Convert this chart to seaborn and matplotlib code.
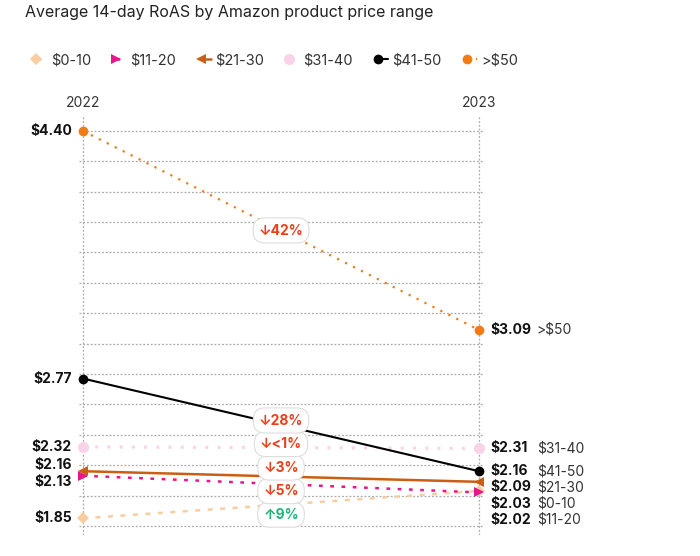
import numpy as np
import pandas as pd
import seaborn as sns
import matplotlib.pyplot as plt
from matplotlib.lines import Line2D
from matplotlib.legend_handler import HandlerLine2D

# ----------------------------
# Data
# ----------------------------
price_ranges = ["$0-10", "$11-20", "$21-30", "$31-40", "$41-50", ">$50"]
years = ["2022", "2023"]
roas_2022 = [1.85, 2.13, 2.16, 2.32, 2.77, 4.40]
roas_2023 = [2.03, 2.02, 2.09, 2.31, 2.16, 3.09]

# Styling per series
colors = ["#F8CD9F", "#E8168A", "#CB5E12", "#F9D3E8", "#000000", "#F07C12"]
markers = ["D", ">", "<", "o", "o", "o"]
dashes = [(2, 3), (1.5, 3), "", (1, 3), "", (1, 3)]
widths = [1.8, 1.8, 1.8, 2.2, 1.5, 1.6]
msizes = [6, 7, 7, 8, 7, 7]

df = pd.DataFrame({
    "range": np.repeat(price_ranges, 2),
    "pos": np.tile([0, 1], len(price_ranges)),
    "roas": np.ravel(np.column_stack([roas_2022, roas_2023])),
})

sns.set_style("white")
plt.rcParams["font.family"] = ["Inter", "DejaVu Sans"]

fig = plt.figure(figsize=(7, 5.56), dpi=100)
ax = fig.add_axes([79 / 700, 1 - 535 / 556, 404 / 700, 420 / 556])

sns.lineplot(
    data=df, x="pos", y="roas", hue="range", style="range",
    hue_order=price_ranges, style_order=price_ranges,
    palette=dict(zip(price_ranges, colors)),
    markers=dict(zip(price_ranges, markers)),
    dashes=dict(zip(price_ranges, dashes)),
    markeredgewidth=0, legend=False, ax=ax,
)
for line, lw, ms in zip(ax.lines, widths, msizes):
    line.set_linewidth(lw)
    line.set_markersize(ms)
    line.set_clip_on(False)

ax.set_xlim(-0.01, 1.01)
ax.set_ylim(1.74, 4.505)
ax.set_yticks(np.arange(1.8, 4.41, 0.2))
ax.set_xticks([0, 1])
ax.set_xticklabels(years)
ax.xaxis.tick_top()
ax.tick_params(axis="x", length=0, pad=3.5, labelsize=10, labelcolor="#333333")
ax.tick_params(axis="y", length=0, labelleft=False)
ax.grid(True, color="#aaaaaa", linestyle=(0, (1.5, 1.5)), linewidth=0.9)
ax.set_axisbelow(True)
ax.set_xlabel("")
ax.set_ylabel("")
for s in ax.spines.values():
    s.set_visible(False)


def spread_down(vals, gap):
    order = np.argsort(-np.asarray(vals))
    out = np.array(vals, dtype=float)
    prev = None
    for i in order:
        if prev is not None:
            out[i] = min(vals[i], prev - gap)
        prev = out[i]
    return out


def spread_centered(vals, gap):
    vals = np.asarray(vals, dtype=float)
    groups = [[i] for i in np.argsort(-vals)]

    def place(g):
        c = vals[g].mean()
        n = len(g)
        return [c + gap * ((n - 1) / 2 - k) for k in range(n)]

    merged = True
    while merged:
        merged = False
        for j in range(len(groups) - 1):
            if place(groups[j])[-1] - place(groups[j + 1])[0] < gap:
                groups[j] = groups[j] + groups[j + 1]
                del groups[j + 1]
                merged = True
                break
    out = np.zeros(len(vals))
    for g in groups:
        for i, p in zip(g, place(g)):
            out[i] = p
    return out


# Left value labels (2022)
left_y = spread_centered(roas_2022, 0.112)
for v, y in zip(roas_2022, left_y):
    ax.text(-0.028, y, f"${v:.2f}", ha="right", va="center",
            fontsize=10, fontweight="bold", color="#111111", clip_on=False)

# Right value + category labels (2023)
right_y = spread_down(roas_2023, 0.107)
for name, v, y in zip(price_ranges, roas_2023, right_y):
    ax.text(1.028, y, f"${v:.2f}", ha="left", va="center",
            fontsize=10, fontweight="bold", color="#111111", clip_on=False)
    ax.text(1.146, y, name, ha="left", va="center",
            fontsize=10, color="#333333", clip_on=False)

# Change badges in the middle
mids = [(a + b) / 2 for a, b in zip(roas_2022, roas_2023)]
badge_y = spread_centered(mids, 0.155)
for a, b, y in zip(roas_2022, roas_2023, badge_y):
    pct = abs(a - b) / b * 100
    txt = "<1%" if pct < 1 else f"{pct:.0f}%"
    up = b > a
    ax.text(0.5, y, ("\u2193" if not up else "\u2191") + txt, ha="center", va="center",
            fontsize=10, fontweight="bold",
            color="#1DB57A" if up else "#E8401C",
            bbox=dict(boxstyle="round,pad=0.4,rounding_size=0.85",
                      facecolor="white", edgecolor="#dddddd", linewidth=0.8),
            zorder=5)

# Title
fig.text(25 / 700, 1 - 12 / 556, "Average 14-day RoAS by Amazon product price range",
         ha="left", va="center", fontsize=11.5, color="#222222")


# Legend with the marker drawn at the left end of the handle
class MarkerFirst(HandlerLine2D):
    def create_artists(self, legend, orig_handle, xdescent, ydescent,
                       width, height, fontsize, trans):
        arts = super().create_artists(legend, orig_handle, xdescent, ydescent,
                                      width, height, fontsize, trans)
        arts[0].set_markevery([0])
        return arts


handles = [
    Line2D([0], [0], color=c, marker=m, markersize=ms, markeredgewidth=0,
           linestyle=(0, d) if d else "-", linewidth=lw)
    for c, m, d, lw, ms in zip(colors, markers, dashes, widths, msizes)
]
fig.legend(handles, price_ranges, loc="center left",
           bbox_to_anchor=(23 / 700, 1 - 60 / 556), ncol=6, frameon=False,
           fontsize=10.5, handlelength=0.7, handletextpad=0.3, columnspacing=1.7,
           labelcolor="#333333", handler_map={Line2D: MarkerFirst()})

plt.savefig("out.png", dpi=100)
